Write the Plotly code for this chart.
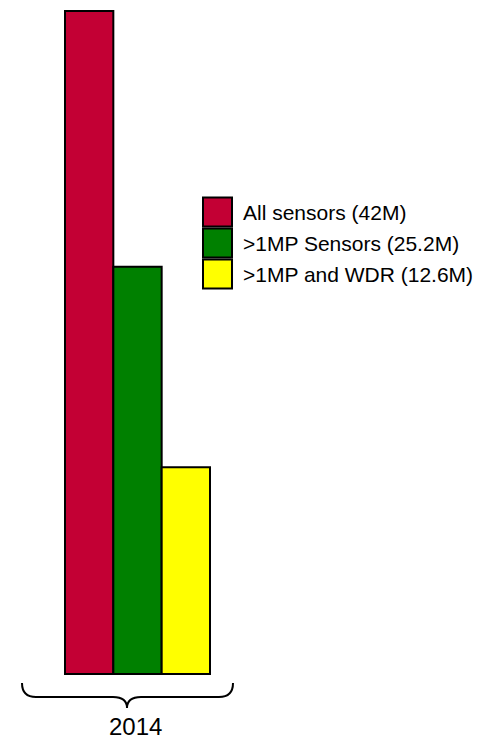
import plotly.graph_objects as go

# ---- data ----
categories = ["2014"]
series_names = ["All sensors (42M)", ">1MP Sensors (25.2M)", ">1MP and WDR (12.6M)"]
series_values = [42.0, 25.8, 13.1]
series_colors = ["#C30034", "#008000", "#FFFF00"]

W, H = 481, 741


def px(x):
    return x / W


def py(y):
    return (H - y) / H


fig = go.Figure()
for name, val, col in zip(series_names, series_values, series_colors):
    fig.add_trace(go.Bar(
        x=categories, y=[val], name=name,
        marker=dict(color=col, line=dict(color="black", width=2)),
        showlegend=False,
    ))

# axis geometry
U = 290.0  # px per category unit
x0 = -137.5 / U
x1 = x0 + W / U
ppu = 663 / 42.0
y0 = -(H - 674) / ppu
y1 = 42.0 + 11 / ppu

shapes = []
annotations = []

# manual legend
top = 197.5
size = 29
pitch = 31
for i, (name, col) in enumerate(zip(series_names, series_colors)):
    t = top + i * pitch
    shapes.append(dict(type="rect", xref="paper", yref="paper",
                       x0=px(203), x1=px(203 + size), y0=py(t + size), y1=py(t),
                       fillcolor=col, line=dict(color="black", width=2)))
    annotations.append(dict(text=name, xref="paper", yref="paper",
                            x=px(241), y=py(t + size / 2), xanchor="left", yanchor="middle",
                            showarrow=False, font=dict(size=21, color="black")))

# brace under the group
pts = [(22, 683), (22, 697), (36, 697), (113, 697), (127, 697), (127, 708),
       (127, 697), (141, 697), (219, 697), (233, 697), (233, 683)]
P = [(px(a), py(b)) for a, b in pts]
path = (f"M {P[0][0]},{P[0][1]} Q {P[1][0]},{P[1][1]} {P[2][0]},{P[2][1]} "
        f"L {P[3][0]},{P[3][1]} Q {P[4][0]},{P[4][1]} {P[5][0]},{P[5][1]} "
        f"Q {P[6][0]},{P[6][1]} {P[7][0]},{P[7][1]} L {P[8][0]},{P[8][1]} "
        f"Q {P[9][0]},{P[9][1]} {P[10][0]},{P[10][1]}")
shapes.append(dict(type="path", xref="paper", yref="paper", path=path,
                   line=dict(color="black", width=2)))

annotations.append(dict(text=categories[0], xref="paper", yref="paper",
                        x=px(135), y=py(726), xanchor="center", yanchor="middle",
                        showarrow=False, font=dict(size=24, color="black")))

fig.update_layout(
    width=W, height=H,
    margin=dict(l=0, r=0, t=0, b=0),
    paper_bgcolor="white", plot_bgcolor="white",
    barmode="group", bargap=0.5, bargroupgap=0,
    font=dict(family="Arial, Liberation Sans, sans-serif"),
    xaxis=dict(range=[x0, x1], visible=False),
    yaxis=dict(range=[y0, y1], visible=False),
    shapes=shapes, annotations=annotations,
)

fig.write_html("out.html")
